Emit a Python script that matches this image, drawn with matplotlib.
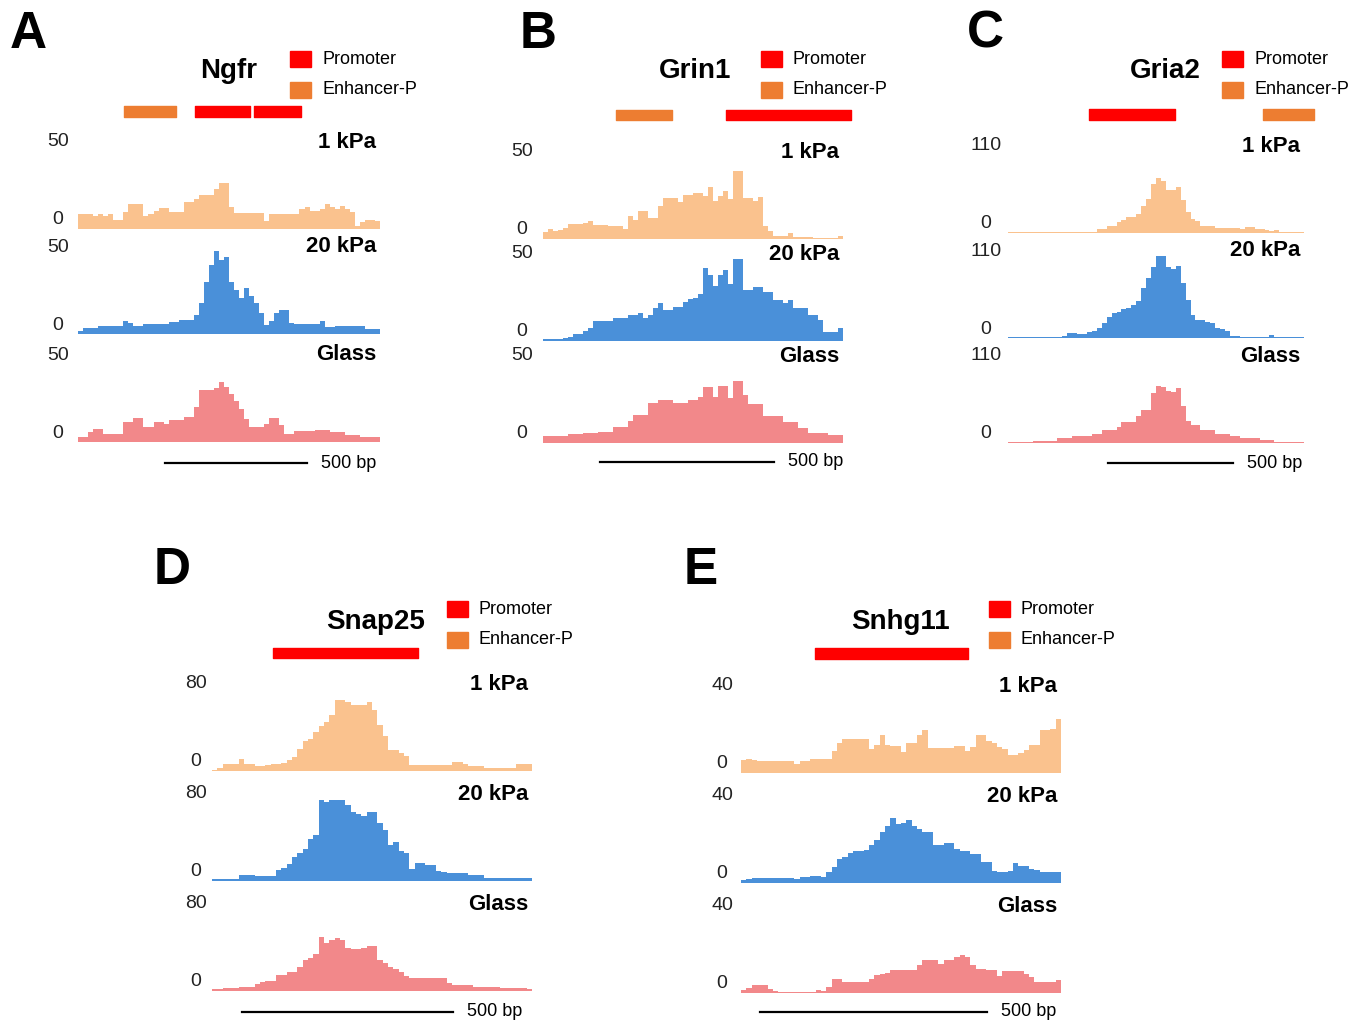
#!/usr/bin/env python3

import matplotlib
matplotlib.use("Agg")
import matplotlib.pyplot as plt
from matplotlib.patches import Rectangle

W, H = 1356, 1024

# coverage per bin (60 bins across each locus)
ngfr_1kpa = [9, 9, 9, 8, 9, 8, 9, 5.4, 5.4, 10,
             15, 15, 15, 8, 9, 11, 12.6, 12.6, 10, 10,
             10, 16, 16, 18, 20.6, 20.6, 20.6, 24, 27.6, 27.6,
             13, 9.4, 9.4, 9.4, 9.4, 9.4, 9.4, 5, 9, 9,
             9, 9, 9, 9, 12, 13, 11, 11, 12, 15,
             13, 12, 14, 12, 10, 2, 4, 5.4, 5.4, 4.6]
ngfr_20kpa = [1.6, 3.6, 3.6, 3.6, 5, 5, 5, 4.6, 4.6, 8,
              6.6, 4.6, 4.6, 6.2, 6.2, 6.2, 6.2, 6.2, 7, 7,
              8.6, 8.6, 8.6, 11.6, 18.6, 31.6, 41.6, 50, 44.6, 46.6,
              31.6, 26.6, 21.6, 28, 22.6, 18.6, 12.6, 5.6, 7.6, 12.6,
              14.6, 14.6, 6.6, 6.2, 6.2, 6.2, 6.2, 6.2, 7.6, 4.2,
              4.2, 4.6, 4.6, 4.6, 4.6, 4.6, 4.6, 3, 3, 3]
ngfr_glass = [3, 3, 6, 8, 8, 5, 5, 5, 5, 12,
              12, 14.6, 14.6, 9, 9, 12, 12, 11, 13, 13,
              13, 15, 15, 21, 31.4, 31.4, 31.4, 32.6, 36, 33,
              29, 25, 20, 14, 9, 9, 9, 11, 14.6, 14.6,
              10, 5, 5, 6.6, 6.6, 6.6, 6.6, 7.4, 7.4, 7.4,
              6, 6, 6, 4, 4, 4, 3, 3, 3, 3]

grin1_1kpa = [4, 6, 5, 5.7, 7, 9.3, 9.3, 9.3, 10, 11,
              8.3, 8.3, 8.3, 7.7, 7.7, 7.7, 6, 13.8, 11.8, 16.8,
              16.8, 13, 12.8, 19.9, 25, 25, 25, 22.3, 27, 27,
              28, 28, 26.4, 31.7, 23, 26, 29.4, 24.4, 41.6, 41.6,
              25, 25, 23, 25.6, 7.7, 5, 1.6, 1.6, 1.6, 3.6,
              1.2, 1.2, 1.2, 1.2, 0.4, 0.4, 0.4, 0.4, 0.4, 1.6]
grin1_20kpa = [1, 1, 1, 1, 2, 2.6, 4.3, 4.3, 6, 8.1,
               12.2, 12.2, 12.2, 12.2, 13.8, 13.8, 13.8, 15.8, 15.8, 16.8,
               13.8, 16, 19.9, 23.3, 19, 18.9, 20.9, 20.9, 24, 25.4,
               26, 28.6, 44.3, 40, 33.5, 40.2, 43.2, 34.7, 50.3, 50.3,
               31, 31, 33.1, 33.1, 30, 30, 25, 25, 23, 25,
               20, 20, 20, 15.8, 15.8, 12.8, 5.7, 5.7, 5.7, 7.7]
grin1_glass = [4, 4, 4, 4, 4, 5.7, 5.7, 5.7, 6.3, 6.3,
               6.3, 6.7, 6.7, 6.7, 9.7, 9.7, 9.7, 13.4, 16.8, 16.8,
               16.8, 24.4, 24.4, 26, 26, 26, 24.6, 24.6, 24.6, 26.4,
               26.4, 28, 34, 34, 28, 35, 35, 27.6, 38, 38,
               29, 24, 24, 24, 16.4, 16.4, 16.4, 16.4, 12.8, 12.8,
               12.8, 9.3, 9.3, 6, 6, 6, 6, 4.7, 4.7, 4.7]

gria2_1kpa = [0.9] * 18 + [5.8, 5.8,
              9.4, 9.4, 15, 17.9, 21.5, 21.5, 25, 35.8, 46, 66,
              74, 70, 58, 58, 62, 43.8, 28, 19, 16, 9,
              9, 9, 7, 7, 7, 7, 7, 5.8, 8, 8,
              5.8, 5.8, 4, 2.7, 4.5, 1.8, 1.8, 1.8, 1.8, 1.8]
gria2_20kpa = [0.9] * 11 + [2.2, 6.7, 6.7, 5.4, 5.4, 7.6, 9, 14, 20,
               28, 33, 34.4, 39, 40, 44, 49, 67, 80.5, 95,
               112, 110, 95, 92, 97, 74, 51, 31, 24.6, 24.6,
               22, 20, 14, 12, 9, 3, 3, 1.8, 1.8, 1.8,
               1.8, 1.8, 1.8, 4.5, 1.3, 1.3, 1.3, 1.3, 1.3, 1.3]
gria2_glass = [0.9, 0.9, 0.9, 0.9, 0.9, 3, 3, 3, 3, 3,
               6.7, 6.7, 6.7, 9.8, 9.8, 9.8, 9.8, 12, 12, 17,
               17, 17, 21, 27.7, 27.7, 27.7, 35.8, 44.7, 44.7, 67,
               77, 75, 70, 68, 74, 49, 29, 24.6, 24.6, 17,
               17, 17, 12.5, 12.5, 12.5, 9, 9, 6.7, 6.7, 6.7,
               6.7, 4.5, 4.5, 4.5, 0.9, 0.9, 0.9, 0.9, 0.9, 0.9]

snap25_1kpa = [1.3, 3, 6.6, 6.6, 6.6, 12, 6.6, 6.6, 4.6, 4.6,
               5.5, 7.2, 7.2, 8, 10.5, 14, 22, 30, 32, 38.5,
               44, 48, 55, 70, 70, 68, 64.8, 64.8, 64.8, 68,
               60, 45, 35, 20.4, 21, 18, 15, 5.6, 5.6, 5.6,
               5.6, 5.6, 5.6, 5.6, 5.6, 8.9, 8.9, 7, 4.6, 4.6,
               4.6, 3.3, 3.3, 3.3, 3.3, 3.3, 3.3, 6.6, 6.6, 6.6]
snap25_20kpa = [1.6, 1.6, 1.6, 1.6, 1.6, 6, 6, 6, 5.3, 5.3,
                5.3, 5.3, 10.9, 13, 16.8, 24, 28, 32, 41, 45,
                83, 78, 80, 90, 83, 75, 68, 66, 64, 68,
                68, 57, 50, 35.5, 38.8, 30, 27.3, 12, 17.4, 17.4,
                15.8, 15.8, 10, 9.2, 8.2, 8.2, 8.2, 8.2, 6, 6,
                6, 3.3, 3.3, 3.3, 3.3, 3.3, 3.3, 3.3, 3.3, 3.3]
snap25_glass = [1.6, 1.6, 3.3, 3.3, 3.3, 4.3, 4.3, 4.3, 7, 9,
                10, 10, 15.8, 16, 19, 19, 24, 31, 33, 37,
                53.6, 47, 50, 52, 50, 42.8, 41, 41, 42, 44.4,
                44, 30.6, 28, 24, 22, 19, 15, 12.5, 12.5, 12.5,
                12.5, 12.5, 12.5, 12.5, 7.6, 6, 6, 6, 6, 4.3,
                4.3, 4.3, 4.3, 4.3, 3.3, 3.3, 3.3, 3.3, 3.3, 1.6]

snhg11_1kpa = [6.3, 7, 6.5, 6, 6, 6, 6, 6, 6, 6,
               4.5, 6, 6, 7, 7, 7, 7, 11, 15, 16.6,
               16.6, 16.6, 16.6, 16.6, 12, 13.7, 18.6, 14, 13.3, 13.3,
               10.4, 15, 15, 19, 21.4, 12.3, 12.3, 12.3, 12.3, 12.3,
               13.3, 13.3, 10.7, 12.8, 18.6, 18.6, 16, 15, 13, 12,
               9, 9, 10, 11.5, 13.7, 13.7, 21.4, 21.4, 21.9, 26.8]
snhg11_20kpa = [1.3, 2.1, 2.6, 2.6, 2.6, 2.6, 2.6, 2.6, 2.6, 2.6,
                1.8, 3, 3, 3.6, 3.6, 3, 5.4, 8, 12, 13,
                15, 16, 16, 16.5, 19, 21.4, 25.2, 28, 32.3, 29,
                29.6, 31, 28, 26.8, 25.2, 25.2, 19, 19, 19.7, 19.7,
                17, 15.8, 15.8, 14.5, 14.5, 10.4, 10.4, 5.8, 5.4, 5.4,
                6, 9.9, 8.2, 8.2, 7, 6.3, 5.4, 5.4, 5.4, 5.4]
snhg11_glass = [1.3, 2.5, 3.8, 3.8, 3.8, 2, 1, 0.5, 0.5, 0.5,
                0.5, 0.5, 0.5, 0.5, 1.6, 1, 3, 7, 7, 5.4,
                5.4, 5.4, 5.4, 5.4, 7, 8.7, 9.3, 9.9, 11.2, 11.5,
                11.5, 11.5, 11.5, 13.7, 16.5, 16.5, 16.5, 14.5, 16.5, 16.5,
                18, 19, 17.8, 14, 12, 12, 11.2, 11.2, 8.5, 10.9,
                10.9, 10.9, 10.9, 9.5, 7.9, 5.4, 5.4, 5.4, 5.4, 6.3]

# annotated elements, (start bin, end bin)
ngfr_promoter = [(23.3, 34.2), (35.0, 44.3)]
ngfr_enhancer = [(9.1, 19.5)]
grin1_promoter = [(36.6, 61.6)]
grin1_enhancer = [(14.6, 25.8)]
gria2_promoter = [(16.4, 33.9)]
gria2_enhancer = [(51.7, 62.1)]
snap25_promoter = [(11.4, 38.6)]
snap25_enhancer = []
snhg11_promoter = [(13.9, 42.6)]
snhg11_enhancer = []

conditions = ["1 kPa", "20 kPa", "Glass"]
track_colors = ["#FAC28E", "#4A90D9", "#F2888A"]
promoter_color = "#FF0000"
enhancer_color = "#ED7D31"

SANS = ["Liberation Sans", "DejaVu Sans"]


def add_ax(fig, x0, x1, ytop, ybot):
    return fig.add_axes([x0 / W, 1 - ybot / H, (x1 - x0) / W, (ybot - ytop) / H])


def draw_panel(fig, p):
    x0, x1 = p["x"]
    nbins = len(p["tracks"][0])

    # coverage tracks
    for name, vals, base, col in zip(conditions, p["tracks"], p["bases"], track_colors):
        ax = add_ax(fig, x0, x1, base - p["h"], base)
        ax.stairs(vals, range(nbins + 1), fill=True, color=col, lw=0)
        ax.axhline(0, color=col, lw=1.2)
        ax.set_xlim(0, nbins)
        ax.set_ylim(0, p["ymax"])
        ax.axis("off")
        fig.text((x1 - 4) / W, 1 - (base - 87) / H, name, ha="right", va="center",
                 fontsize=16, fontweight="bold", family=SANS)
        fig.text(p["ylab_x"] / W, 1 - (base - 87) / H, str(p["ymax"]), ha="center",
                 va="center", fontsize=14, family=SANS, color="#222222")
        fig.text(p["ylab_x"] / W, 1 - (base - 9) / H, "0", ha="center",
                 va="center", fontsize=14, family=SANS, color="#222222")

    # promoter / enhancer annotation
    ay0, ay1 = p["annot_y"]
    ax = add_ax(fig, x0, x1, ay0, ay1)
    ax.set_xlim(0, nbins)
    ax.set_ylim(0, 1)
    for regions, col in ((p["promoter"], promoter_color), (p["enhancer"], enhancer_color)):
        ax.broken_barh([(s, e - s) for s, e in regions], (0, 1), color=col, clip_on=False)
    ax.axis("off")

    # scale bar
    sy = p["bar_y"]
    ax = add_ax(fig, x0, x1, sy - 5, sy + 5)
    ax.set_xlim(0, nbins)
    ax.set_ylim(-1, 1)
    s, n = p["bar"]
    ax.plot([s, s + n], [0, 0], color="black", lw=1.6, clip_on=False)
    ax.annotate("500 bp", (s + n, 0), xytext=(10, 0), textcoords="offset points",
                ha="left", va="center", fontsize=13, family=SANS, annotation_clip=False)
    ax.axis("off")

    # header: letter, gene name, legend
    lx, ly = p["letter_xy"]
    fig.text(lx / W, 1 - ly / H, p["letter"], ha="center", va="center",
             fontsize=37, fontweight="bold", family=SANS)
    gx, gy = p["gene_xy"]
    fig.text(gx / W, 1 - gy / H, p["gene"], ha="center", va="center",
             fontsize=20, fontweight="bold", family=SANS)
    kx, ky = p["legend_xy"]
    for i, (lab, col) in enumerate((("Promoter", promoter_color), ("Enhancer-P", enhancer_color))):
        cy = ky + 31 * i
        fig.patches.append(Rectangle((kx / W, 1 - (cy + 8) / H), 21 / W, 16 / H,
                                     color=col, transform=fig.transFigure))
        fig.text((kx + 32) / W, 1 - cy / H, lab, ha="left", va="center",
                 fontsize=13, family=SANS)


def main():
    panels = [
        dict(letter="A", gene="Ngfr", ymax=50, tracks=(ngfr_1kpa, ngfr_20kpa, ngfr_glass),
             promoter=ngfr_promoter, enhancer=ngfr_enhancer,
             x=(78, 380), bases=(229, 334, 442), h=83, ylab_x=58,
             annot_y=(106, 117), bar_y=463, bar=(17.3, 28.2),
             letter_xy=(28, 34), gene_xy=(229, 71), legend_xy=(290, 59)),
        dict(letter="B", gene="Grin1", ymax=50, tracks=(grin1_1kpa, grin1_20kpa, grin1_glass),
             promoter=grin1_promoter, enhancer=grin1_enhancer,
             x=(543, 843), bases=(239, 341, 443), h=82, ylab_x=522,
             annot_y=(110, 120), bar_y=462, bar=(11.4, 34.8),
             letter_xy=(538, 34), gene_xy=(695, 71), legend_xy=(761, 59)),
        dict(letter="C", gene="Gria2", ymax=110, tracks=(gria2_1kpa, gria2_20kpa, gria2_glass),
             promoter=gria2_promoter, enhancer=gria2_enhancer,
             x=(1008, 1304), bases=(233, 338, 443), h=82, ylab_x=986,
             annot_y=(109, 120), bar_y=463, bar=(20.3, 25.4),
             letter_xy=(985, 34), gene_xy=(1165, 71), legend_xy=(1222, 59)),
        dict(letter="D", gene="Snap25", ymax=80, tracks=(snap25_1kpa, snap25_20kpa, snap25_glass),
             promoter=snap25_promoter, enhancer=snap25_enhancer,
             x=(212, 532), bases=(771, 881, 991), h=81, ylab_x=196,
             annot_y=(648, 658), bar_y=1012, bar=(5.6, 39.6),
             letter_xy=(172, 571), gene_xy=(376, 622), legend_xy=(447, 609)),
        dict(letter="E", gene="Snhg11", ymax=40, tracks=(snhg11_1kpa, snhg11_20kpa, snhg11_glass),
             promoter=snhg11_promoter, enhancer=snhg11_enhancer,
             x=(741, 1061), bases=(773, 883, 993), h=81, ylab_x=722,
             annot_y=(648, 659), bar_y=1012, bar=(3.6, 42.6),
             letter_xy=(701, 571), gene_xy=(900, 622), legend_xy=(989, 609)),
    ]

    fig = plt.figure(figsize=(W / 100, H / 100), dpi=100)
    fig.patch.set_facecolor("white")
    for p in panels:
        draw_panel(fig, p)
    fig.savefig("out.png", dpi=100)


if __name__ == "__main__":
    main()
